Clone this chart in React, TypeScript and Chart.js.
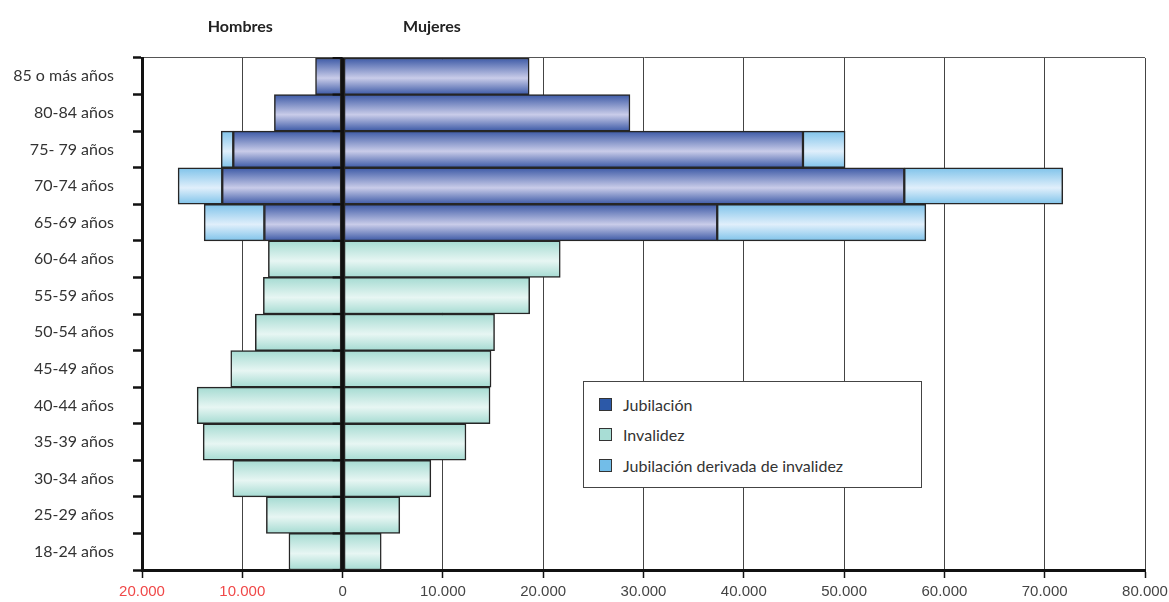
import React, { useEffect, useRef } from "react";
import { Chart, registerables } from "chart.js";

Chart.register(...registerables);

// ---------- data ----------
const categories = [
  "85 o más años",
  "80-84 años",
  "75- 79 años",
  "70-74 años",
  "65-69 años",
  "60-64 años",
  "55-59 años",
  "50-54 años",
  "45-49 años",
  "40-44 años",
  "35-39 años",
  "30-34 años",
  "25-29 años",
  "18-24 años",
];

// Hombres (drawn to the left)
const hombresJubilacion = [2700, 6800, 10900, 12000, 7800, null, null, null, null, null, null, null, null, null];
const hombresInvalidez = [null, null, null, null, null, 7400, 7900, 8700, 11150, 14500, 13900, 10950, 7600, 5350];
const hombresDerivada = [null, null, 1200, 4400, 6000, null, null, null, null, null, null, null, null, null];

// Mujeres (drawn to the right)
const mujeresJubilacion = [18600, 28650, 45900, 56000, 37350, null, null, null, null, null, null, null, null, null];
const mujeresInvalidez = [null, null, null, null, null, 21700, 18650, 15150, 14800, 14700, 12300, 8800, 5700, 3850];
const mujeresDerivada = [null, null, 4200, 15800, 20800, null, null, null, null, null, null, null, null, null];

const seriesNames = ["Jubilación", "Invalidez", "Jubilación derivada de invalidez"];
const sideTitles = ["Hombres", "Mujeres"];

const xMin = -20000;
const xMax = 80000;
const xStep = 10000;

// ---------- styles ----------
const EDGE = ["#3c59a6", "#a5dbd2", "#7fc3ea"];
const MID = ["#c9cce9", "#e7f6f3", "#e0effb"];
const SWATCH = ["#2c59a8", "#a8ddd5", "#72bde8"];

function fmt(v: number) {
  return String(Math.abs(v)).replace(/\B(?=(\d{3})+(?!\d))/g, ".");
}

function makeGradient(i: number) {
  return (ctx: any) => {
    const chart = ctx.chart;
    const y = chart.scales && chart.scales.y;
    if (!chart.chartArea || !y || ctx.dataIndex === undefined) return EDGE[i];
    const c = y.getPixelForValue(ctx.dataIndex);
    const half = Math.abs(y.getPixelForValue(1) - y.getPixelForValue(0)) / 2;
    if (!isFinite(c) || !isFinite(half) || half <= 0) return EDGE[i];
    const g = chart.ctx.createLinearGradient(0, c - half, 0, c + half);
    g.addColorStop(0, EDGE[i]);
    g.addColorStop(0.55, MID[i]);
    g.addColorStop(1, EDGE[i]);
    return g;
  };
}

const neg = (arr: (number | null)[]) => arr.map((v) => (v === null ? null : -v));

function ds(label: string, data: (number | null)[], i: number) {
  return {
    label,
    data,
    stack: "all",
    backgroundColor: makeGradient(i),
    borderColor: "#262626",
    borderWidth: 1.5,
    borderSkipped: false as const,
    categoryPercentage: 1,
    barPercentage: 1,
  };
}

const overlayPlugin = {
  id: "overlay",
  afterDatasetsDraw(chart: any) {
    const { ctx, chartArea } = chart;
    const x = chart.scales.x;
    const y = chart.scales.y;
    const x0 = x.getPixelForValue(0);
    const half = Math.abs(y.getPixelForValue(1) - y.getPixelForValue(0)) / 2;
    ctx.save();
    ctx.strokeStyle = "#111";
    ctx.lineWidth = 3;
    ctx.beginPath();
    ctx.moveTo(x0, chartArea.top);
    ctx.lineTo(x0, chartArea.bottom);
    ctx.stroke();
    ctx.lineWidth = 2;
    for (let i = 0; i <= categories.length; i++) {
      const yy = y.getPixelForValue(i) - half;
      ctx.beginPath();
      ctx.moveTo(x0 - 10, yy);
      ctx.lineTo(x0, yy);
      ctx.stroke();
    }
    ctx.font = "bold 16px Lato";
    ctx.fillStyle = "#222";
    ctx.textAlign = "center";
    ctx.textBaseline = "middle";
    ctx.fillText(sideTitles[0], x.getPixelForValue(-10000) - 2, 27);
    ctx.fillText(sideTitles[1], x.getPixelForValue(8900), 27);
    ctx.restore();
  },
};

export default function App() {
  const ref = useRef<HTMLCanvasElement>(null);

  useEffect(() => {
    const chart = new Chart(ref.current as HTMLCanvasElement, {
      type: "bar",
      data: {
        labels: categories,
        datasets: [
          ds(seriesNames[0], neg(hombresJubilacion), 0),
          ds(seriesNames[0], mujeresJubilacion, 0),
          ds(seriesNames[1], neg(hombresInvalidez), 1),
          ds(seriesNames[1], mujeresInvalidez, 1),
          ds(seriesNames[2], neg(hombresDerivada), 2),
          ds(seriesNames[2], mujeresDerivada, 2),
        ] as any,
      },
      options: {
        indexAxis: "y",
        responsive: false,
        animation: false,
        devicePixelRatio: 1,
        layout: { padding: { top: 58, right: 24, left: 0, bottom: 0 } },
        plugins: {
          legend: { display: false },
          tooltip: { enabled: false },
        },
        scales: {
          x: {
            type: "linear",
            stacked: true,
            min: xMin,
            max: xMax,
            ticks: {
              stepSize: xStep,
              callback: (v: any) => fmt(Number(v)),
              color: (c: any) => (c.tick && c.tick.value < 0 ? "#f04848" : "#444"),
              font: { family: '"Liberation Sans", Arial, sans-serif', size: 15 },
              padding: 5,
              maxRotation: 0,
            },
            grid: {
              color: (c: any) => (c.tick && c.tick.value === 0 ? "#111" : "#444"),
              lineWidth: (c: any) => (c.tick && c.tick.value === 0 ? 3 : 1),
              tickLength: 8,
              tickColor: "#111",
              tickWidth: 1.5,
            },
            border: { display: true, color: "#111", width: 3 },
            afterFit: (s: any) => {
              s.height = 32;
              s.paddingLeft = 0;
              s.paddingRight = 0;
            },
          },
          y: {
            type: "category",
            stacked: true,
            offset: true,
            grid: {
              offset: true,
              drawOnChartArea: true,
              color: (c: any) => (c.index === 0 ? "#555" : "rgba(0,0,0,0)"),
              lineWidth: 1,
              tickColor: "#111",
              tickLength: 9,
              tickWidth: 2.5,
            },
            border: { display: true, color: "#111", width: 3 },
            ticks: {
              font: { family: "Lato", size: 16 },
              color: "#333",
              padding: 19,
              autoSkip: false,
            },
            afterFit: (s: any) => {
              s.width = 142;
              s.paddingTop = 0;
              s.paddingBottom = 0;
            },
          },
        },
      },
      plugins: [overlayPlugin],
    } as any);
    return () => chart.destroy();
  }, []);

  return (
    <div style={{ position: "absolute", left: 0, top: 0, width: 1169, height: 602, background: "#fff" }}>
      <canvas ref={ref} width={1169} height={602} style={{ display: "block", width: 1169, height: 602 }} />
      <div
        style={{
          position: "absolute",
          left: 583,
          top: 381,
          width: 339,
          height: 107,
          boxSizing: "border-box",
          border: "1.5px solid #444",
          background: "#fff",
          fontFamily: "Lato, sans-serif",
          fontSize: 16,
          color: "#333",
        }}
      >
        {seriesNames.map((name, i) => (
          <div
            key={name}
            style={{
              position: "absolute",
              left: 15,
              top: 12 + i * 30.5,
              height: 20,
              display: "flex",
              alignItems: "center",
              whiteSpace: "nowrap",
            }}
          >
            <span
              style={{
                display: "inline-block",
                width: 11,
                height: 11,
                background: SWATCH[i],
                border: "1px solid #333",
                marginRight: 11,
              }}
            />
            <span>{name}</span>
          </div>
        ))}
      </div>
    </div>
  );
}
